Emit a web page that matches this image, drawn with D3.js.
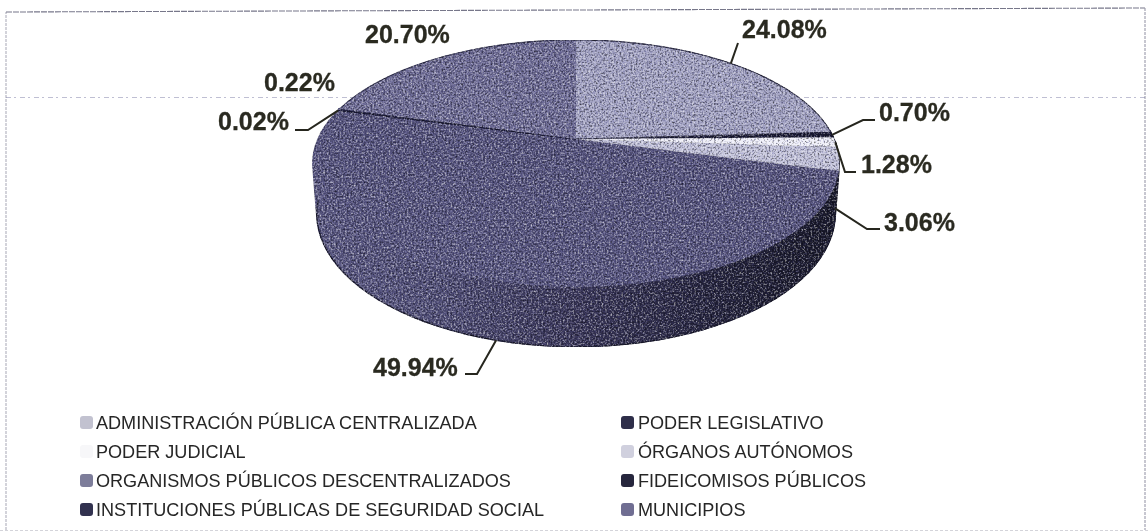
<!DOCTYPE html>
<html>
<head>
<meta charset="utf-8">
<script src="https://cdn.jsdelivr.net/npm/d3@7"></script>
<style>
  html, body { margin: 0; padding: 0; background: #fff; }
  svg { display: block; }
  text { font-family: "Liberation Sans", Arial, sans-serif; }
</style>
</head>
<body>
<svg width="1148" height="531"></svg>
<script>
// values in the order the slices run, clockwise from 12 o'clock
var categories = ["ADMINISTRACIÓN PÚBLICA CENTRALIZADA", "PODER LEGISLATIVO", "PODER JUDICIAL", "ÓRGANOS AUTÓNOMOS",
  "ORGANISMOS PÚBLICOS DESCENTRALIZADOS", "FIDEICOMISOS PÚBLICOS", "INSTITUCIONES PÚBLICAS DE SEGURIDAD SOCIAL", "MUNICIPIOS"];
var values = [24.08, 0.70, 1.28, 3.06, 49.94, 0.02, 0.22, 20.70];
var labels = ["24.08%", "0.70%", "1.28%", "3.06%", "49.94%", "0.02%", "0.22%", "20.70%"];

var topColors = ["#a2a2c2", "#1b1b36", "#eeeef8", "#c0c0d8", "#585680", "#1b1b36", "#2c2b4c", "#6f6d96"];
var legendColors = ["#c2c2d0", "#2d2d48", "#f7f7f9", "#d0d0de", "#7d7d9a", "#26263c", "#33334f", "#706e92"];

// label position (left x, baseline y), and the leader's elbow/end, none where there is no leader
var labelX = [742, 879, 861, 884, 373, 218, 264, 365];
var labelY = [38, 121, 173, 231, 376, 130, 91, 43];
var leaderPts = [
  [[738, 43]],
  [[863, 120], [875, 120]],
  [[845, 172], [856, 172]],
  [[867, 229], [880, 229]],
  [[477, 374], [465, 374]],
  [[308, 130], [295, 130]],
  null,
  null
];

var svg = d3.select("svg");
var defs = svg.append("defs");

// scanner grain for the pie
var grain = defs.append("filter").attr("id", "grain")
    .attr("x", 0).attr("y", 0).attr("width", 1).attr("height", 1)
    .attr("color-interpolation-filters", "sRGB");
grain.append("feTurbulence").attr("type", "fractalNoise").attr("baseFrequency", 0.55)
    .attr("numOctaves", 2).attr("seed", 4).attr("result", "n");
grain.append("feColorMatrix").attr("in", "n").attr("type", "matrix")
    .attr("values", "0.85 0 0 0 0.07  0.85 0 0 0 0.07  0.8 0 0.1 0 0.05  0 0 0 0 1").attr("result", "g");
grain.append("feBlend").attr("in", "SourceGraphic").attr("in2", "g").attr("mode", "overlay").attr("result", "b");
grain.append("feComposite").attr("in", "b").attr("in2", "SourceGraphic").attr("operator", "in").attr("result", "c");
grain.append("feGaussianBlur").attr("in", "c").attr("stdDeviation", 0.4);

var soft = defs.append("filter").attr("id", "soft");
soft.append("feGaussianBlur").attr("stdDeviation", 0.35);

var wallGrad = defs.append("linearGradient").attr("id", "wall")
    .attr("gradientUnits", "userSpaceOnUse")
    .attr("x1", 312).attr("x2", 838).attr("y1", 0).attr("y2", 0);
[[0, "#5c5a84"], [0.25, "#514f77"], [0.5, "#3c395c"], [0.75, "#282742"], [1, "#1a1a2c"]].forEach(function(s) {
  wallGrad.append("stop").attr("offset", s[0]).attr("stop-color", s[1]);
});

// frame and the scanner's fold line
var frame = svg.append("g").attr("fill", "none").attr("stroke", "#8d8d9c").attr("filter", "url(#soft)");
frame.append("path").attr("d", "M6,530L6,12").attr("stroke", "#b0b0bc").attr("stroke-dasharray", "3 1").attr("stroke-width", 1.1);
frame.append("path").attr("d", "M6,12L1145,8").attr("stroke", "#77778a").attr("stroke-dasharray", "6 1").attr("stroke-width", 1.1);
frame.append("path").attr("d", "M1145,8L1145,530").attr("stroke", "#9a9aaa").attr("stroke-dasharray", "3 1").attr("stroke-width", 1.1);
frame.append("path").attr("d", "M0,530.5L1148,530.5").attr("stroke-dasharray", "3 2").attr("stroke", "#d4d4da");

// perspective view of the unit circle
var cx = 576, cy = 139, R = 258, S = 118.6, k = 0.198, depth = 48, rimShrink = 0.985;

function rimTop(a) {
  var w = 1 + k * Math.cos(a);
  return [cx + R * Math.sin(a) / w, cy - S * Math.cos(a) / w];
}
function rimBottom(a) {
  var w = 1 + k * Math.cos(a);
  return [cx + rimShrink * R * Math.sin(a) / w, cy + (depth - S * Math.cos(a)) / w];
}
function angles(d) {
  return d3.range(0, 61).map(function(i) { return d.startAngle + (d.endAngle - d.startAngle) * i / 60; });
}

var pie = d3.pie().sort(null)(values);
var line = d3.line();

var chart = svg.append("g").attr("filter", "url(#grain)");

// wall built from short quads so the silhouette stays filled where the two rims cross
chart.selectAll("path.wall")
    .data(pie)
    .enter().append("path")
      .attr("class", "wall")
      .attr("fill", "url(#wall)")
      .attr("d", function(d) {
        var a = angles(d);
        return d3.pairs(a).map(function(p) {
          return line([rimTop(p[0]), rimTop(p[1]), rimBottom(p[1]), rimBottom(p[0])]) + "Z";
        }).join("");
      })
      .attr("stroke", "url(#wall)")
      .attr("stroke-width", 1.5);

chart.selectAll("path.slice")
    .data(pie)
    .enter().append("path")
      .attr("class", "slice")
      .attr("fill", function(d, i) { return topColors[i]; })
      .attr("stroke", function(d, i) { return (i == 1 || i == 5 || i == 6) ? "#1b1b36" : "none"; })
      .attr("stroke-width", 0.8)
      .attr("d", function(d) {
        return line([[cx, cy]].concat(angles(d).map(rimTop))) + "Z";
      });

// thin dark rim along the back edge
chart.selectAll("path.rim")
    .data(pie.filter(function(d) { return d.index == 0 || d.index == 7; }))
    .enter().append("path")
      .attr("class", "rim")
      .attr("fill", "none")
      .attr("stroke", "#33334e")
      .attr("stroke-width", 1)
      .attr("d", function(d) { return line(angles(d).map(rimTop)); });

chart.append("path")
    .attr("fill", "none")
    .attr("stroke", "#1c1c30")
    .attr("stroke-width", 1.2)
    .attr("d", line(angles(pie[4]).filter(function(a) { return Math.cos(a) < -0.1; }).map(rimBottom)));

svg.append("path")
    .attr("d", "M6,97.5L1145,97.5")
    .attr("stroke", "#7f7fa8")
    .attr("stroke-opacity", 0.5)
    .attr("stroke-dasharray", "5 3 2 4")
    .attr("fill", "none");

// leaders
var leaders = svg.append("g").attr("fill", "none").attr("stroke", "#26261e").attr("stroke-width", 2);
pie.forEach(function(d, i) {
  if (!leaderPts[i]) return;
  var mid = (d.startAngle + d.endAngle) / 2;
  var onWall = i == 3 || i == 4;
  var start = onWall ? rimBottom(mid) : rimTop(mid);
  leaders.append("path").attr("d", line([start].concat(leaderPts[i])));
});

svg.append("g").selectAll("text")
    .data(labels)
    .enter().append("text")
      .attr("x", function(d, i) { return labelX[i]; })
      .attr("y", function(d, i) { return labelY[i]; })
      .attr("font-size", 25)
      .attr("font-weight", "bold")
      .attr("fill", "#2a2a20")
      .attr("stroke", "#2a2a20")
      .attr("stroke-width", 0.3)
      .attr("filter", "url(#soft)")
      .text(function(d) { return d; });

// legend runs row by row over two columns
var legendX = d3.scaleOrdinal().domain([0, 1]).range([80, 621]);
var legendY = d3.scaleBand().domain(d3.range(4)).range([408, 524]);

var legend = svg.append("g").selectAll("g")
    .data(categories)
    .enter().append("g")
      .attr("transform", function(d, i) {
        return "translate(" + legendX(i % 2) + "," + (legendY(Math.floor(i / 2)) + legendY.bandwidth() / 2) + ")";
      });

legend.append("rect")
    .attr("y", -6.5)
    .attr("width", 13)
    .attr("height", 13)
    .attr("rx", 3)
    .attr("fill", function(d, i) { return legendColors[i]; })
    .attr("filter", "url(#soft)");

legend.append("text")
    .attr("x", function(d, i) { return i % 2 ? 17 : 16; })
    .attr("y", 6.5)
    .attr("font-size", 18.08)
    .attr("fill", "#262626")
    .attr("filter", "url(#soft)")
    .text(function(d) { return d; });
</script>
</body>
</html>
